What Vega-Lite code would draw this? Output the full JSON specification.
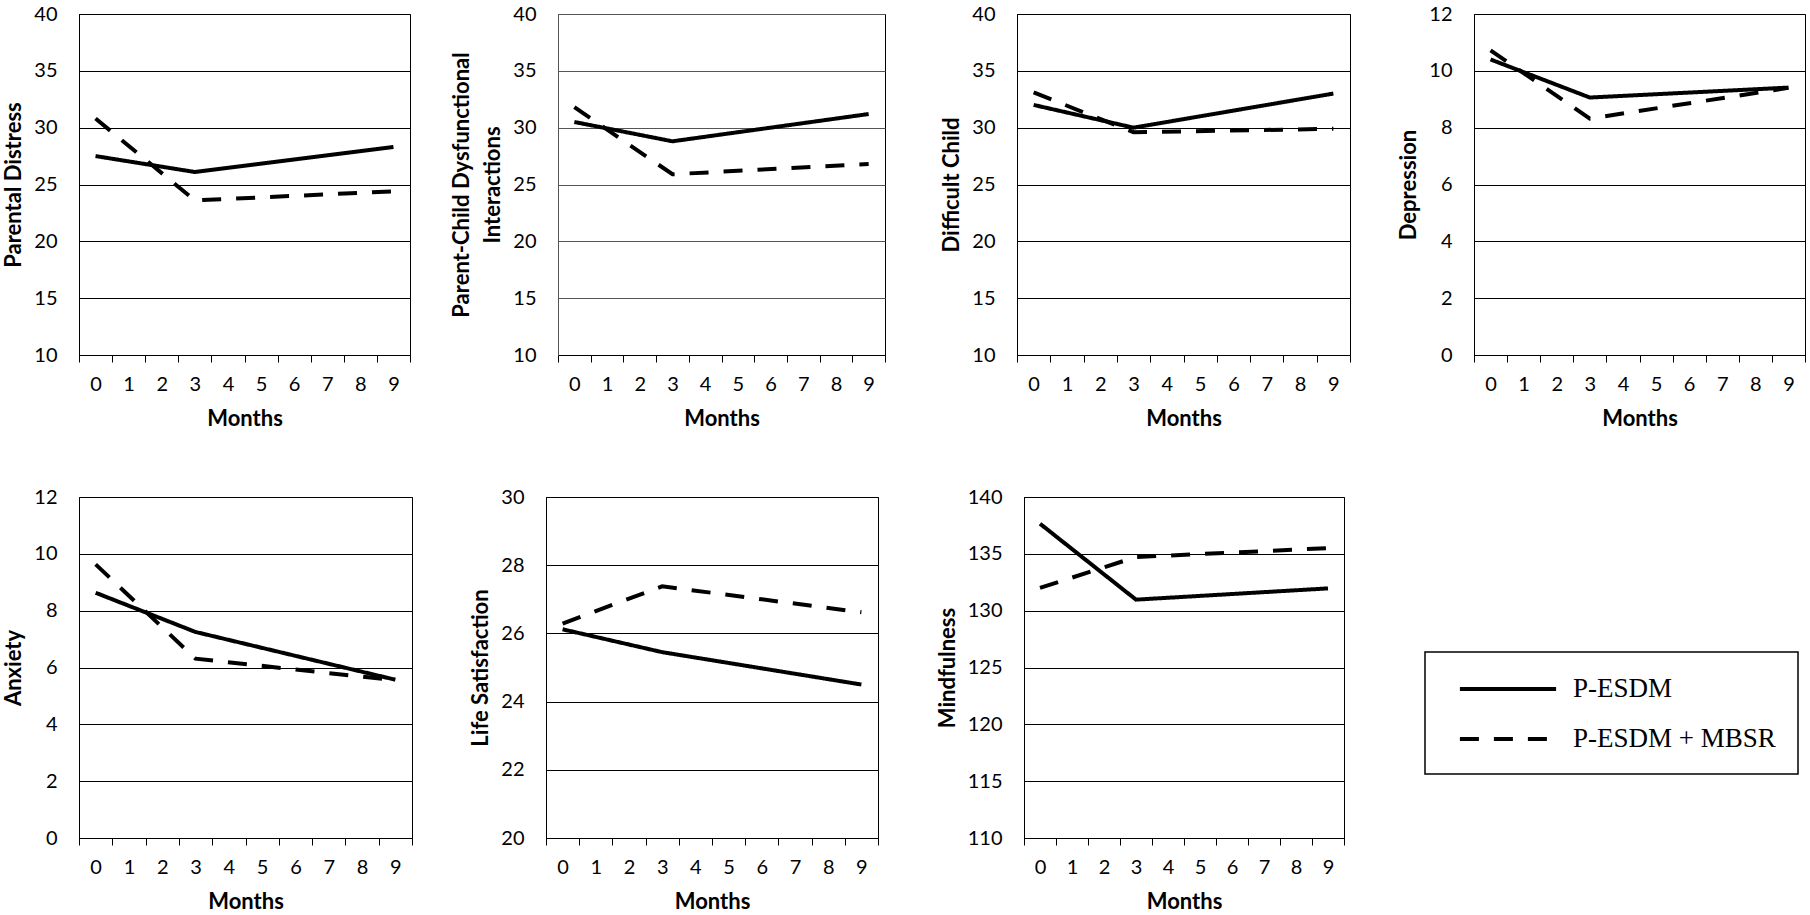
{
  "$schema": "https://vega.github.io/schema/vega-lite/v6.json",
  "background": "white",
  "padding": {"left": 2, "top": 3, "right": 5, "bottom": 5},
  "datasets": {
    "d": [
      {"measure": "Parental Distress", "group": "P-ESDM", "month": 0, "value": 27.5},
      {"measure": "Parental Distress", "group": "P-ESDM", "month": 3, "value": 26.1},
      {"measure": "Parental Distress", "group": "P-ESDM", "month": 9, "value": 28.3},
      {"measure": "Parental Distress", "group": "P-ESDM + MBSR", "month": 0, "value": 30.8},
      {"measure": "Parental Distress", "group": "P-ESDM + MBSR", "month": 3, "value": 23.6},
      {"measure": "Parental Distress", "group": "P-ESDM + MBSR", "month": 9, "value": 24.4},
      {"measure": "Parent-Child Dysfunctional Interactions", "group": "P-ESDM", "month": 0, "value": 30.5},
      {"measure": "Parent-Child Dysfunctional Interactions", "group": "P-ESDM", "month": 3, "value": 28.8},
      {"measure": "Parent-Child Dysfunctional Interactions", "group": "P-ESDM", "month": 9, "value": 31.2},
      {"measure": "Parent-Child Dysfunctional Interactions", "group": "P-ESDM + MBSR", "month": 0, "value": 31.8},
      {"measure": "Parent-Child Dysfunctional Interactions", "group": "P-ESDM + MBSR", "month": 3, "value": 25.9},
      {"measure": "Parent-Child Dysfunctional Interactions", "group": "P-ESDM + MBSR", "month": 9, "value": 26.8},
      {"measure": "Difficult Child", "group": "P-ESDM", "month": 0, "value": 32.0},
      {"measure": "Difficult Child", "group": "P-ESDM", "month": 3, "value": 30.0},
      {"measure": "Difficult Child", "group": "P-ESDM", "month": 9, "value": 33.0},
      {"measure": "Difficult Child", "group": "P-ESDM + MBSR", "month": 0, "value": 33.1},
      {"measure": "Difficult Child", "group": "P-ESDM + MBSR", "month": 3, "value": 29.6},
      {"measure": "Difficult Child", "group": "P-ESDM + MBSR", "month": 9, "value": 29.9},
      {"measure": "Depression", "group": "P-ESDM", "month": 0, "value": 10.4},
      {"measure": "Depression", "group": "P-ESDM", "month": 3, "value": 9.06},
      {"measure": "Depression", "group": "P-ESDM", "month": 9, "value": 9.41},
      {"measure": "Depression", "group": "P-ESDM + MBSR", "month": 0, "value": 10.72},
      {"measure": "Depression", "group": "P-ESDM + MBSR", "month": 3, "value": 8.32},
      {"measure": "Depression", "group": "P-ESDM + MBSR", "month": 9, "value": 9.4},
      {"measure": "Anxiety", "group": "P-ESDM", "month": 0, "value": 8.63},
      {"measure": "Anxiety", "group": "P-ESDM", "month": 3, "value": 7.25},
      {"measure": "Anxiety", "group": "P-ESDM", "month": 9, "value": 5.57},
      {"measure": "Anxiety", "group": "P-ESDM + MBSR", "month": 0, "value": 9.63},
      {"measure": "Anxiety", "group": "P-ESDM + MBSR", "month": 3, "value": 6.31},
      {"measure": "Anxiety", "group": "P-ESDM + MBSR", "month": 9, "value": 5.55},
      {"measure": "Life Satisfaction", "group": "P-ESDM", "month": 0, "value": 26.12},
      {"measure": "Life Satisfaction", "group": "P-ESDM", "month": 3, "value": 25.45},
      {"measure": "Life Satisfaction", "group": "P-ESDM", "month": 9, "value": 24.5},
      {"measure": "Life Satisfaction", "group": "P-ESDM + MBSR", "month": 0, "value": 26.29},
      {"measure": "Life Satisfaction", "group": "P-ESDM + MBSR", "month": 3, "value": 27.38},
      {"measure": "Life Satisfaction", "group": "P-ESDM + MBSR", "month": 9, "value": 26.62},
      {"measure": "Mindfulness", "group": "P-ESDM", "month": 0, "value": 137.65},
      {"measure": "Mindfulness", "group": "P-ESDM", "month": 3, "value": 130.97},
      {"measure": "Mindfulness", "group": "P-ESDM", "month": 9, "value": 131.96},
      {"measure": "Mindfulness", "group": "P-ESDM + MBSR", "month": 0, "value": 132.0},
      {"measure": "Mindfulness", "group": "P-ESDM + MBSR", "month": 3, "value": 134.72},
      {"measure": "Mindfulness", "group": "P-ESDM + MBSR", "month": 9, "value": 135.5}
    ]
  },
  "vconcat": [
    {
      "hconcat": [
        {
          "hconcat": [
            {
              "width": 331, "height": 341,
              "data": {"name": "d"},
              "transform": [{"filter": "datum.measure === 'Parental Distress'"}],
              "mark": {"type": "line", "color": "black", "strokeWidth": 4, "strokeCap": "butt"},
              "encoding": {
                "x": {"field": "month", "type": "ordinal", "bandPosition": 0.5, "scale": {"type": "band", "domain": [0,1,2,3,4,5,6,7,8,9], "paddingInner": 0, "paddingOuter": 0}, "axis": {"title": "Months", "labelAngle": 0, "tickBand": "extent", "grid": false, "ticks": true, "tickSize": 7, "labelPadding": 12, "titlePadding": 14}},
                "y": {"field": "value", "type": "quantitative", "scale": {"domain": [10, 40], "nice": false, "zero": false}, "axis": {"values": [10,15,20,25,30,35,40], "title": "Parental Distress"}},
                "strokeDash": {"field": "group", "type": "nominal", "scale": {"domain": ["P-ESDM", "P-ESDM + MBSR"], "range": [[1, 0], [19, 15]]}, "legend": {"orient": "none", "legendX": 1346, "legendY": 638, "title": null}}
              }
            },
            {
              "width": 327, "height": 341,
              "data": {"name": "d"},
              "transform": [{"filter": "datum.measure === 'Parent-Child Dysfunctional Interactions'"}],
              "mark": {"type": "line", "color": "black", "strokeWidth": 4, "strokeCap": "butt"},
              "encoding": {
                "x": {"field": "month", "type": "ordinal", "bandPosition": 0.5, "scale": {"type": "band", "domain": [0,1,2,3,4,5,6,7,8,9], "paddingInner": 0, "paddingOuter": 0}, "axis": {"title": "Months", "labelAngle": 0, "tickBand": "extent", "grid": false, "ticks": true, "tickSize": 7, "labelPadding": 12, "titlePadding": 14}},
                "y": {"field": "value", "type": "quantitative", "scale": {"domain": [10, 40], "nice": false, "zero": false}, "axis": {"values": [10,15,20,25,30,35,40], "title": ["Parent-Child Dysfunctional", "Interactions"], "titleLineHeight": 31, "gridColor": "#555", "domainColor": "#555"}},
                "strokeDash": {"field": "group", "type": "nominal", "scale": {"domain": ["P-ESDM", "P-ESDM + MBSR"], "range": [[1, 0], [19, 15]]}, "legend": {"orient": "none", "legendX": 1346, "legendY": 638, "title": null}}
              }
            }
          ],
          "spacing": 39
        },
        {
          "hconcat": [
            {
              "width": 333, "height": 341,
              "data": {"name": "d"},
              "transform": [{"filter": "datum.measure === 'Difficult Child'"}],
              "mark": {"type": "line", "color": "black", "strokeWidth": 4, "strokeCap": "butt"},
              "encoding": {
                "x": {"field": "month", "type": "ordinal", "bandPosition": 0.5, "scale": {"type": "band", "domain": [0,1,2,3,4,5,6,7,8,9], "paddingInner": 0, "paddingOuter": 0}, "axis": {"title": "Months", "labelAngle": 0, "tickBand": "extent", "grid": false, "ticks": true, "tickSize": 7, "labelPadding": 12, "titlePadding": 14}},
                "y": {"field": "value", "type": "quantitative", "scale": {"domain": [10, 40], "nice": false, "zero": false}, "axis": {"values": [10,15,20,25,30,35,40], "title": "Difficult Child"}},
                "strokeDash": {"field": "group", "type": "nominal", "scale": {"domain": ["P-ESDM", "P-ESDM + MBSR"], "range": [[1, 0], [19, 15]]}, "legend": {"orient": "none", "legendX": 1346, "legendY": 638, "title": null}}
              }
            },
            {
              "width": 331, "height": 341,
              "data": {"name": "d"},
              "transform": [{"filter": "datum.measure === 'Depression'"}],
              "mark": {"type": "line", "color": "black", "strokeWidth": 4, "strokeCap": "butt"},
              "encoding": {
                "x": {"field": "month", "type": "ordinal", "bandPosition": 0.5, "scale": {"type": "band", "domain": [0,1,2,3,4,5,6,7,8,9], "paddingInner": 0, "paddingOuter": 0}, "axis": {"title": "Months", "labelAngle": 0, "tickBand": "extent", "grid": false, "ticks": true, "tickSize": 7, "labelPadding": 12, "titlePadding": 14}},
                "y": {"field": "value", "type": "quantitative", "scale": {"domain": [0, 12], "nice": false, "zero": false}, "axis": {"values": [0,2,4,6,8,10,12], "title": "Depression"}},
                "strokeDash": {"field": "group", "type": "nominal", "scale": {"domain": ["P-ESDM", "P-ESDM + MBSR"], "range": [[1, 0], [19, 15]]}, "legend": {"orient": "none", "legendX": 1346, "legendY": 638, "title": null}}
              }
            }
          ],
          "spacing": 46
        }
      ],
      "spacing": 54
    },
    {
      "hconcat": [
        {
          "width": 333, "height": 341,
          "data": {"name": "d"},
          "transform": [{"filter": "datum.measure === 'Anxiety'"}],
          "mark": {"type": "line", "color": "black", "strokeWidth": 4, "strokeCap": "butt"},
          "encoding": {
            "x": {"field": "month", "type": "ordinal", "bandPosition": 0.5, "scale": {"type": "band", "domain": [0,1,2,3,4,5,6,7,8,9], "paddingInner": 0, "paddingOuter": 0}, "axis": {"title": "Months", "labelAngle": 0, "tickBand": "extent", "grid": false, "ticks": true, "tickSize": 7, "labelPadding": 12, "titlePadding": 14}},
            "y": {"field": "value", "type": "quantitative", "scale": {"domain": [0, 12], "nice": false, "zero": false}, "axis": {"values": [0,2,4,6,8,10,12], "title": "Anxiety"}},
            "strokeDash": {"field": "group", "type": "nominal", "scale": {"domain": ["P-ESDM", "P-ESDM + MBSR"], "range": [[1, 0], [19, 15]]}, "legend": {"orient": "none", "legendX": 1346, "legendY": 638, "title": null}}
          }
        },
        {
          "width": 332, "height": 341,
          "data": {"name": "d"},
          "transform": [{"filter": "datum.measure === 'Life Satisfaction'"}],
          "mark": {"type": "line", "color": "black", "strokeWidth": 4, "strokeCap": "butt"},
          "encoding": {
            "x": {"field": "month", "type": "ordinal", "bandPosition": 0.5, "scale": {"type": "band", "domain": [0,1,2,3,4,5,6,7,8,9], "paddingInner": 0, "paddingOuter": 0}, "axis": {"title": "Months", "labelAngle": 0, "tickBand": "extent", "grid": false, "ticks": true, "tickSize": 7, "labelPadding": 12, "titlePadding": 14}},
            "y": {"field": "value", "type": "quantitative", "scale": {"domain": [20, 30], "nice": false, "zero": false}, "axis": {"values": [20,22,24,26,28,30], "title": "Life Satisfaction"}},
            "strokeDash": {"field": "group", "type": "nominal", "scale": {"domain": ["P-ESDM", "P-ESDM + MBSR"], "range": [[1, 0], [19, 15]]}, "legend": {"orient": "none", "legendX": 1346, "legendY": 638, "title": null}}
          }
        },
        {
          "width": 320, "height": 341,
          "data": {"name": "d"},
          "transform": [{"filter": "datum.measure === 'Mindfulness'"}],
          "mark": {"type": "line", "color": "black", "strokeWidth": 4, "strokeCap": "butt"},
          "encoding": {
            "x": {"field": "month", "type": "ordinal", "bandPosition": 0.5, "scale": {"type": "band", "domain": [0,1,2,3,4,5,6,7,8,9], "paddingInner": 0, "paddingOuter": 0}, "axis": {"title": "Months", "labelAngle": 0, "tickBand": "extent", "grid": false, "ticks": true, "tickSize": 7, "labelPadding": 12, "titlePadding": 14}},
            "y": {"field": "value", "type": "quantitative", "scale": {"domain": [110, 140], "nice": false, "zero": false}, "axis": {"values": [110,115,120,125,130,135,140], "title": "Mindfulness"}},
            "strokeDash": {"field": "group", "type": "nominal", "scale": {"domain": ["P-ESDM", "P-ESDM + MBSR"], "range": [[1, 0], [19, 15]]}, "legend": {"orient": "none", "legendX": 1346, "legendY": 638, "title": null}}
          }
        }
      ],
      "spacing": 56
    }
  ],
  "spacing": 56,
  "config": {
    "view": {"stroke": "black", "strokeWidth": 1},
    "axis": {
      "labelFont": "Lato", "labelFontSize": 20, "labelColor": "black",
      "titleFont": "Lato", "titleFontSize": 22, "titleFontWeight": "bold", "titleColor": "black",
      "domainColor": "black", "domainWidth": 1, "tickColor": "black", "tickWidth": 1,
      "gridColor": "black", "gridWidth": 1
    },
    "axisY": {"grid": true, "ticks": false, "tickSize": 0, "labelPadding": 22, "titlePadding": 8},
    "legend": {
      "strokeColor": "black", "strokeWidth": 1.5, "fillColor": "white", "padding": 22,
      "labelFont": "Liberation Serif", "labelFontSize": 27, "labelColor": "black", "labelLimit": 400,
      "symbolType": "M-3.7,0L3.7,0", "symbolSize": 676, "symbolStrokeWidth": 4, "symbolStrokeColor": "black",
      "symbolOffset": 46, "labelOffset": 50, "rowPadding": 22
    }
  }
}
